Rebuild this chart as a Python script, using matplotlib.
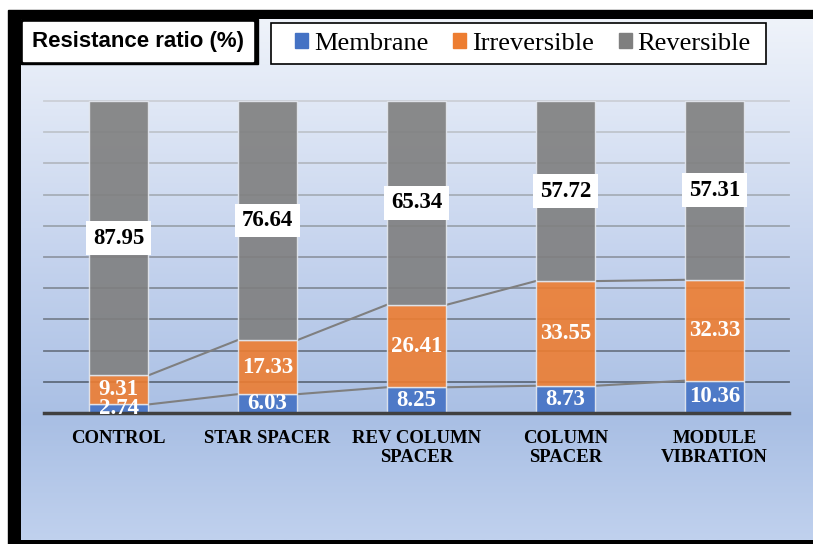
import numpy as np
import matplotlib
matplotlib.use('Agg')
import matplotlib.pyplot as plt
from matplotlib.patches import Rectangle, Patch
from matplotlib.colors import to_rgb

categories = ['CONTROL', 'STAR SPACER', 'REV COLUMN\nSPACER', 'COLUMN\nSPACER', 'MODULE\nVIBRATION']
membrane = [2.74, 6.03, 8.25, 8.73, 10.36]
irreversible = [9.31, 17.33, 26.41, 33.55, 32.33]
reversible = [87.95, 76.64, 65.34, 57.72, 57.31]
series_names = ['Membrane', 'Irreversible', 'Reversible']
colors = ['#4472c4', '#ed7d31', '#7f7f7f']

W, H = 813, 544
fig = plt.figure(figsize=(W / 100, H / 100), dpi=100)

# backdrop drawn in pixel coordinates
bg = fig.add_axes([0, 0, 1, 1], zorder=0)
bg.add_patch(Rectangle((8, 10), W, H, color='black', zorder=1))
rows = np.arange(19, 541)
stops_y = [19, 250, 420, 540]
stops_c = [to_rgb(c) for c in ['#eff3fa', '#c6d4ee', '#a9bfe4', '#c0d1ee']]
grad = np.stack([np.interp(rows, stops_y, [c[k] for c in stops_c]) for k in range(3)], axis=-1)
bg.imshow(grad[:, None, :], extent=(21, W, 540, 19), aspect='auto',
          interpolation='bilinear', zorder=2)

# title box
bg.add_patch(Rectangle((21, 19), 237, 45, color='black', zorder=3))
bg.add_patch(Rectangle((23, 22), 230, 39, color='white', zorder=4))
bg.text(138, 42, 'Resistance ratio (%)', ha='center', va='center', zorder=5,
        fontsize=16, fontweight='bold', family='Liberation Sans')
# legend frame
bg.add_patch(Rectangle((271, 23), 495, 41, facecolor='white', edgecolor='black',
                       lw=1.2, zorder=4))
bg.set_xlim(0, W)
bg.set_ylim(H, 0)
bg.axis('off')

ax = fig.add_axes([44 / W, 1 - 413 / H, 745 / W, 312 / H], zorder=1)
ax.set_facecolor('none')
x = np.arange(len(categories))
width = 0.4

# gridlines fade from dark at the bottom to light at the top
light, dark = np.array(to_rgb('#cbcfd6')), np.array(to_rgb('#5f6b7c'))
for lv in range(10, 101, 10):
    t = (lv - 10) / 90
    ax.axhline(lv, color=dark * (1 - t) + light * t, lw=1.3, zorder=1, clip_on=False)

bottoms = np.zeros(len(categories))
for vals, name, c in zip([membrane, irreversible, reversible], series_names, colors):
    bars = ax.bar(x, vals, width, bottom=bottoms, color=c, alpha=0.9,
                  edgecolor='#e4e8ef', linewidth=1, zorder=2, label=name)
    if name == 'Reversible':
        ax.bar_label(bars, fmt='%.2f', label_type='center', color='black',
                     fontsize=16.5, fontweight='bold', family='Liberation Serif',
                     bbox=dict(facecolor='white', edgecolor='none', boxstyle='square,pad=0.28'))
    else:
        ax.bar_label(bars, fmt='%.2f', label_type='center', color='white',
                     fontsize=16.5, fontweight='bold', family='Liberation Serif')
    bottoms += np.array(vals)

# series lines between stacked segments
mem = np.array(membrane)
for cum in [mem, mem + np.array(irreversible)]:
    for i in range(len(x) - 1):
        ax.plot([x[i] + width / 2, x[i + 1] - width / 2], [cum[i], cum[i + 1]],
                color='#7f7f7f', lw=1.5, zorder=1.5)

ax.set_xlim(-0.5, len(x) - 0.5)
ax.set_ylim(0, 100)
for s in ['top', 'left', 'right']:
    ax.spines[s].set_visible(False)
ax.spines['bottom'].set_color('#404040')
ax.spines['bottom'].set_linewidth(2.5)
ax.set_yticks([])
ax.set_xticks(x, categories)
ax.tick_params(axis='x', length=0, pad=12)
for lbl in ax.get_xticklabels():
    lbl.set_fontfamily('Liberation Serif')
    lbl.set_fontweight('bold')
    lbl.set_fontsize(13.5)

handles = [Patch(color=c) for c in colors]
fig.legend(handles, series_names, loc='center', bbox_to_anchor=(522.8 / W, 1 - 43.5 / H),
           ncol=3, frameon=False, prop={'family': 'Liberation Serif', 'size': 19},
           handlelength=0.5, handleheight=0.5, handletextpad=0.2, columnspacing=0.95)

fig.savefig('out.png', dpi=100)
